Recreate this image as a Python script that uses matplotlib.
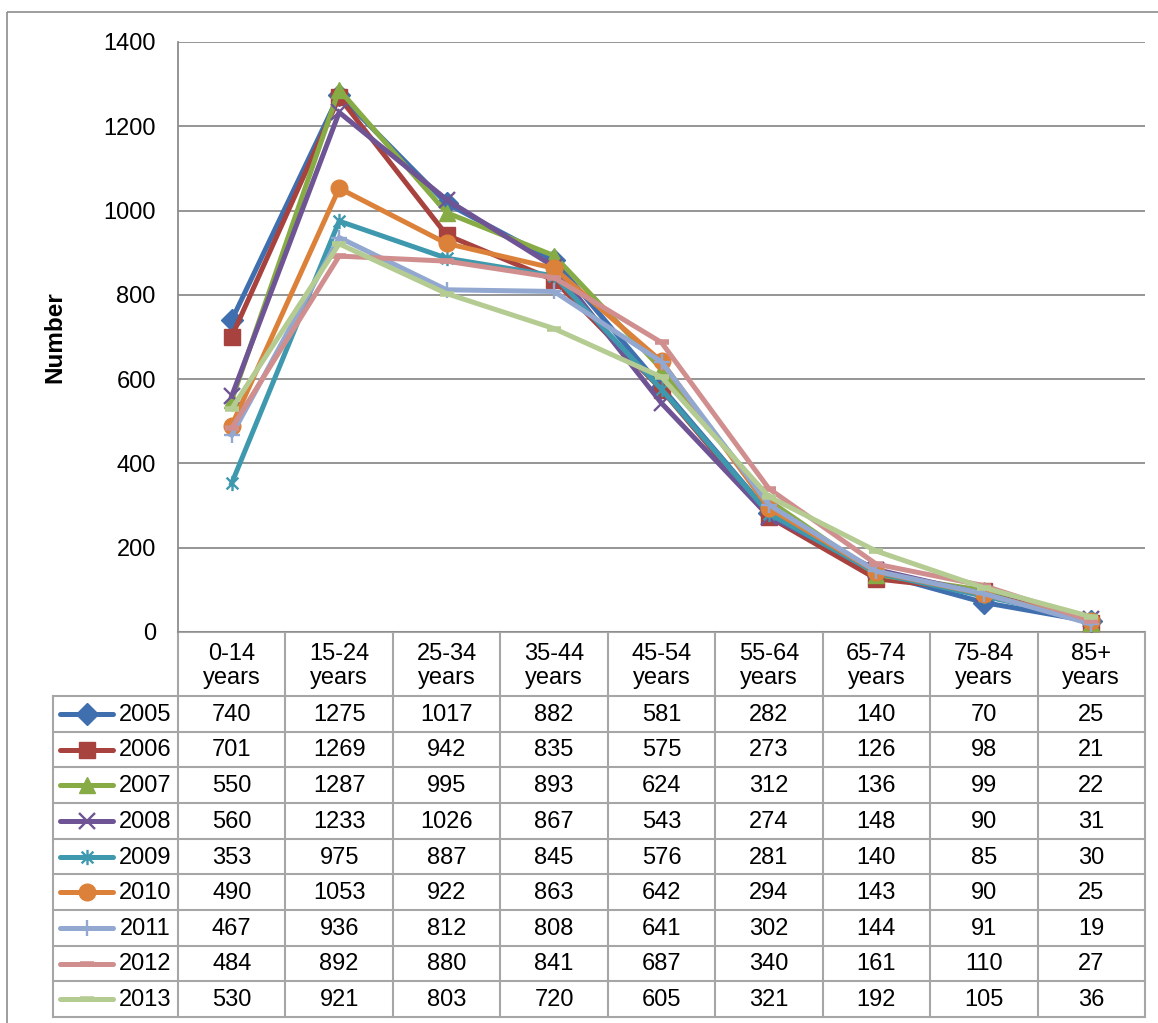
import numpy as np
import matplotlib
matplotlib.use("Agg")
import matplotlib.pyplot as plt
from matplotlib.path import Path
from matplotlib.patches import Rectangle

plt.rcParams['font.family'] = ['Liberation Sans', 'DejaVu Sans']

# age groups and counts per year
age_groups = ["0-14\nyears", "15-24\nyears", "25-34\nyears", "35-44\nyears", "45-54\nyears",
              "55-64\nyears", "65-74\nyears", "75-84\nyears", "85+\nyears"]
years = ["2005", "2006", "2007", "2008", "2009", "2010", "2011", "2012", "2013"]
counts = [
    [740, 1275, 1017, 882, 581, 282, 140, 70, 25],
    [701, 1269, 942, 835, 575, 273, 126, 98, 21],
    [550, 1287, 995, 893, 624, 312, 136, 99, 22],
    [560, 1233, 1026, 867, 543, 274, 148, 90, 31],
    [353, 975, 887, 845, 576, 281, 140, 85, 30],
    [490, 1053, 922, 863, 642, 294, 143, 90, 25],
    [467, 936, 812, 808, 641, 302, 144, 91, 19],
    [484, 892, 880, 841, 687, 340, 161, 110, 27],
    [530, 921, 803, 720, 605, 321, 192, 105, 36],
]
y_ticks = [0, 200, 400, 600, 800, 1000, 1200, 1400]

colors = ['#3F6FAE', '#A8423F', '#87AB45', '#6E5494', '#3E99AE',
          '#DC8139', '#92A8D0', '#D08F8E', '#B4CB92']

# asterisk marker: x with a vertical stroke
star = Path([(-1, -1), (1, 1), (-1, 1), (1, -1), (0, -1.3), (0, 1.3)],
            [Path.MOVETO, Path.LINETO, Path.MOVETO, Path.LINETO, Path.MOVETO, Path.LINETO])
markers = [
    dict(marker='D', ms=11),
    dict(marker='s', ms=11),
    dict(marker='^', ms=12),
    dict(marker='x', ms=11, mew=1.7),
    dict(marker=star, ms=11, mew=1.7),
    dict(marker='o', ms=12),
    dict(marker='+', ms=12, mew=1.7),
    dict(marker='_', ms=10, mew=4),
    dict(marker='_', ms=10, mew=4),
]
line_w = 3.6

W, H = 1158, 1023
fig = plt.figure(figsize=(W / 100, H / 100), dpi=100)

# background axes in pixel units for the frame and the data table
bg = fig.add_axes([0, 0, 1, 1], zorder=0)
bg.set_xlim(0, W)
bg.set_ylim(H, 0)
bg.axis('off')

grey = '#8C8C8C'
tgrey = '#A6A6A6'
bg.add_patch(Rectangle((7, 12), W, H, fill=False, ec=grey, lw=1.2))

left, right, top, bottom = 178, 1145, 42, 632
ax = fig.add_axes([left / W, 1 - bottom / H, (right - left) / W, (bottom - top) / H], zorder=2)
ax.patch.set_alpha(0)

x = np.arange(len(age_groups))
for i, yr in enumerate(years):
    ax.plot(x, counts[i], color=colors[i], lw=line_w, mfc=colors[i], mec=colors[i],
            clip_on=False, solid_joinstyle='miter', label=yr, **markers[i])

ax.set_xlim(-0.5, len(age_groups) - 0.5)
ax.set_ylim(0, 1400)
ax.set_yticks(y_ticks)
ax.set_xticks([])
ax.tick_params(axis='y', length=0, pad=16, labelsize=17)
ax.yaxis.grid(True, color=grey, lw=1.3)
ax.set_axisbelow(True)
for s in ['top', 'right', 'bottom']:
    ax.spines[s].set_visible(False)
ax.spines['left'].set_color(grey)
ax.spines['left'].set_linewidth(1.3)

fig.text(55 / W, 1 - 337 / H, "Number", rotation=90, fontsize=17.5, fontweight='bold',
         ha='center', va='center')

# data table under the plot
col_w = (right - left) / len(age_groups)
col_edges = [left + col_w * k for k in range(len(age_groups) + 1)]
header_bottom = 696
row_h = (1017 - header_bottom) / len(years)
row_edges = [header_bottom + row_h * k for k in range(len(years) + 1)]
key_left = 53

bg.plot([left, right], [bottom, bottom], color=tgrey, lw=1.5)
for ye in row_edges:
    bg.plot([key_left, right], [ye, ye], color=tgrey, lw=1.5)
for k, xe in enumerate(col_edges):
    bg.plot([xe, xe], [bottom, row_edges[-1]], color=tgrey, lw=1.5)
bg.plot([key_left, key_left], [header_bottom, row_edges[-1]], color=tgrey, lw=1.5)

for j, lab in enumerate(age_groups):
    cx = (col_edges[j] + col_edges[j + 1]) / 2
    bg.text(cx, (bottom + header_bottom) / 2 + 2, lab, ha='center', va='center',
            fontsize=17, linespacing=1.15)

for i, yr in enumerate(years):
    cy = (row_edges[i] + row_edges[i + 1]) / 2
    bg.plot([60, 86.5, 113], [cy, cy, cy], color=colors[i], lw=line_w, mfc=colors[i],
            mec=colors[i], markevery=[1], solid_capstyle='round', **markers[i])
    bg.text(171, cy + 1, yr, ha='right', va='center', fontsize=17)
    for j, v in enumerate(counts[i]):
        cx = (col_edges[j] + col_edges[j + 1]) / 2
        bg.text(cx, cy + 1, str(v), ha='center', va='center', fontsize=17)

fig.savefig("out.png", dpi=100)
